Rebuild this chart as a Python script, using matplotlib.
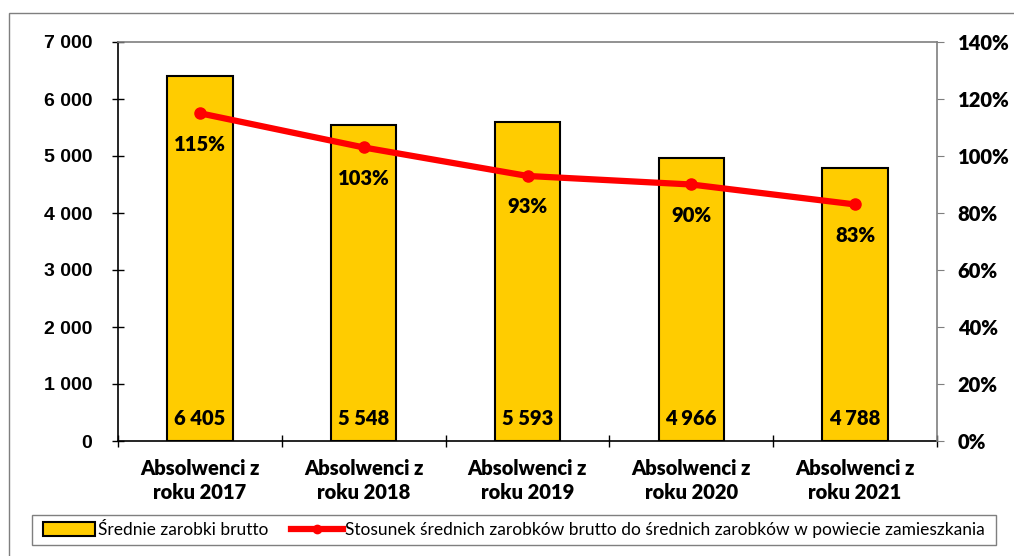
import matplotlib

matplotlib.use("Agg")
import matplotlib.pyplot as plt
from matplotlib.lines import Line2D
from matplotlib.patches import Patch, Rectangle
from matplotlib.ticker import FuncFormatter, MultipleLocator

categories = ["Absolwenci z\nroku 2017", "Absolwenci z\nroku 2018", "Absolwenci z\nroku 2019",
              "Absolwenci z\nroku 2020", "Absolwenci z\nroku 2021"]
salaries = [6405, 5548, 5593, 4966, 4788]
ratio_pct = [115, 103, 93, 90, 83]

BAR_LABEL = "Średnie zarobki brutto"
LINE_LABEL = "Stosunek średnich zarobków brutto do średnich zarobków w powiecie zamieszkania"
FONT = "Lato"
BOLD = "heavy"

W, H = 1014, 556
fig = plt.figure(figsize=(W / 100, H / 100), dpi=100)
ax = fig.add_axes([118 / W, 1 - 441 / H, (937 - 118) / W, (441 - 42) / H])
ax2 = ax.twinx()

# outer chart frame, clipped at right/bottom like the screenshot
fig.add_artist(Rectangle((9 / W, -0.05), 1.2, 1 - 13 / H + 0.05, transform=fig.transFigure,
                         fill=False, edgecolor="#7f7f7f", linewidth=1.0))
# legend frame
fig.add_artist(Rectangle((32 / W, 1 - 545 / H), (996 - 32) / W, 30 / H, transform=fig.transFigure,
                         fill=False, edgecolor="#7f7f7f", linewidth=1.0))

x = range(len(categories))
ax.bar(x, salaries, width=0.4, color="#ffcc00", edgecolor="black", linewidth=1.5, zorder=2)
ax.set_xlim(-0.5, len(categories) - 0.5)
ax.set_ylim(0, 7000)
ax.yaxis.set_major_locator(MultipleLocator(1000))
ax.yaxis.set_major_formatter(FuncFormatter(lambda v, _: f"{int(v):,}".replace(",", " ")))
ax.set_xticks([i + 0.5 for i in range(-1, len(categories))], minor=False)
ax.set_xticklabels([])
ax.set_xticks(list(x), minor=True)
ax.set_xticklabels(categories, minor=True, fontfamily=FONT, fontweight=BOLD, fontsize=14.5,
                   linespacing=1.3)
ax.tick_params(axis="x", which="minor", length=0, pad=13)
ax.tick_params(axis="x", which="major", direction="inout", length=8, width=1)
ax.tick_params(axis="y", direction="inout", length=8, width=1, pad=14.5)
for lab in ax.get_yticklabels():
    lab.set_fontfamily("Liberation Sans")
    lab.set_fontweight("bold")
    lab.set_fontsize(14)

for sp in ["top", "right"]:
    ax.spines[sp].set_visible(False)
ax.spines["left"].set_linewidth(1.2)
ax.spines["bottom"].set_linewidth(1.2)

ax2.plot(x, ratio_pct, color="red", linewidth=4.5, marker="o", markersize=8, zorder=3)
ax2.set_ylim(0, 140)
ax2.yaxis.set_major_locator(MultipleLocator(20))
ax2.yaxis.set_major_formatter(FuncFormatter(lambda v, _: f"{int(v)}%"))
ax2.tick_params(axis="y", direction="out", length=5, color="#7f7f7f", pad=10)
for lab in ax2.get_yticklabels():
    lab.set_fontfamily(FONT)
    lab.set_fontweight(BOLD)
    lab.set_fontsize(14.5)
for sp in ["top", "right"]:
    ax2.spines[sp].set_color("#7f7f7f")
    ax2.spines[sp].set_linewidth(1.2)
ax2.spines["left"].set_visible(False)
ax2.spines["bottom"].set_visible(False)

for i, (s, r) in enumerate(zip(salaries, ratio_pct)):
    ax.text(i, 400, f"{s:,}".replace(",", " "), ha="center", va="center",
            fontfamily=FONT, fontweight=BOLD, fontsize=14.5, zorder=4)
    ax2.annotate(f"{r}%", (i, r), xytext=(0, -31), textcoords="offset pixels",
                 ha="center", va="center", fontfamily=FONT, fontweight=BOLD, fontsize=14.5)

handles = [Patch(facecolor="#ffcc00", edgecolor="black", linewidth=1.5),
           Line2D([0], [0], color="red", linewidth=4.5, marker="o", markersize=6)]
leg = fig.legend(handles, [BAR_LABEL, LINE_LABEL], loc="center", ncol=2,
                 bbox_to_anchor=(32 / W, 1 - 545 / H, (996 - 32) / W, 30 / H),
                 frameon=False, prop={"family": FONT, "size": 12.5}, handlelength=3.0,
                 handleheight=0.9, handletextpad=0.15, columnspacing=1.3)

fig.savefig("out.png", dpi=100)
